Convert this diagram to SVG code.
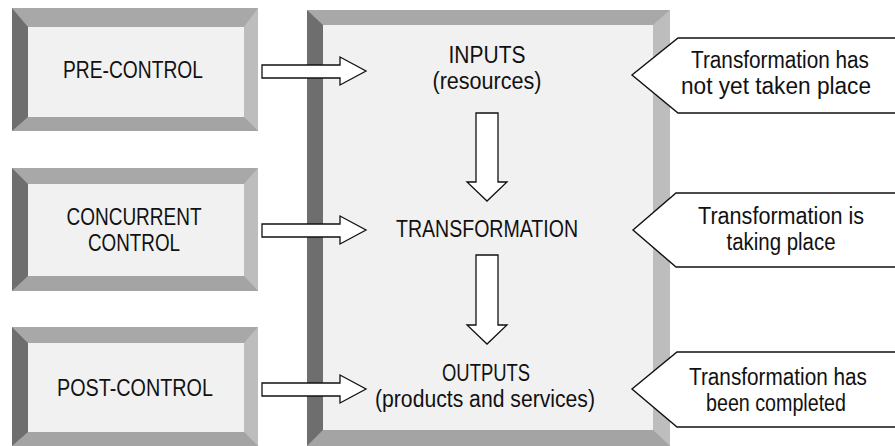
<svg xmlns="http://www.w3.org/2000/svg" width="895" height="446" viewBox="0 0 895 446">
<style>
text{font-family:"Liberation Sans",Arial,sans-serif;font-size:23px;fill:#111;text-anchor:middle}
.outer{fill:#b0b0b0}
.left{fill:#6e6e6e}
.top{fill:#a8a8a8}
.right{fill:#bdbdbd}
.bottom{fill:#a4a4a4}
.inner{fill:#f1f1f1}
.arrow{fill:#fff;stroke:#111;stroke-width:1.3;stroke-linejoin:miter}
.callout{fill:#fff;stroke:#111;stroke-width:1.4}
</style>

<g id="pre-control">
  <rect class="outer" x="12" y="8" width="246" height="123"/>
  <polygon class="top" points="12,8 258,8 244,27 28,27"/>
  <polygon class="right" points="258,8 258,131 244,117 244,27"/>
  <polygon class="bottom" points="12,131 258,131 244,117 28,117"/>
  <polygon class="left" points="12,8 28,27 28,117 12,131"/>
  <rect class="inner" x="28" y="27" width="216" height="90"/>
  <text x="133" y="78" textLength="140" lengthAdjust="spacingAndGlyphs">PRE-CONTROL</text>
</g>

<g id="concurrent-control">
  <rect class="outer" x="12" y="168" width="246" height="123"/>
  <polygon class="top" points="12,168 258,168 244,184 28,184"/>
  <polygon class="right" points="258,168 258,291 244,276 244,184"/>
  <polygon class="bottom" points="12,291 258,291 244,276 28,276"/>
  <polygon class="left" points="12,168 28,184 28,276 12,291"/>
  <rect class="inner" x="28" y="184" width="216" height="92"/>
  <text x="134" y="225" textLength="135" lengthAdjust="spacingAndGlyphs">CONCURRENT</text>
  <text x="134" y="251" textLength="92" lengthAdjust="spacingAndGlyphs">CONTROL</text>
</g>

<g id="post-control">
  <rect class="outer" x="12" y="327" width="246" height="119"/>
  <polygon class="top" points="12,327 258,327 244,343 28,343"/>
  <polygon class="right" points="258,327 258,446 244,432 244,343"/>
  <polygon class="bottom" points="12,446 258,446 244,432 28,432"/>
  <polygon class="left" points="12,327 28,343 28,432 12,446"/>
  <rect class="inner" x="28" y="343" width="216" height="89"/>
  <text x="135" y="396" textLength="156" lengthAdjust="spacingAndGlyphs">POST-CONTROL</text>
</g>

<g id="process">
  <rect class="outer" x="307" y="10" width="363" height="436"/>
  <polygon class="top" points="307,10 670,10 653,25 323,25"/>
  <polygon class="right" points="670,10 670,446 653,430 653,25"/>
  <polygon class="bottom" points="307,446 670,446 653,430 323,430"/>
  <polygon class="left" points="307,10 323,25 323,430 307,446"/>
  <rect class="inner" x="323" y="25" width="330" height="405"/>
</g>

<g id="inputs">
  <text x="487" y="63" textLength="77" lengthAdjust="spacingAndGlyphs">INPUTS</text>
  <text x="487" y="89" textLength="109" lengthAdjust="spacingAndGlyphs">(resources)</text>
</g>

<g id="transformation">
  <text x="487" y="237" textLength="182" lengthAdjust="spacingAndGlyphs">TRANSFORMATION</text>
</g>

<g id="outputs">
  <text x="486" y="381" textLength="88" lengthAdjust="spacingAndGlyphs">OUTPUTS</text>
  <text x="485" y="407" textLength="220" lengthAdjust="spacingAndGlyphs">(products and services)</text>
</g>

<g id="callout-before">
  <polygon class="callout" points="900,38 678,38 632,75 678,113 900,113"/>
  <text x="780" y="68" textLength="178" lengthAdjust="spacingAndGlyphs">Transformation has</text>
  <text x="776" y="94" textLength="190" lengthAdjust="spacingAndGlyphs">not yet taken place</text>
</g>

<g id="callout-during">
  <polygon class="callout" points="900,193 676,193 633,230 676,267 900,267"/>
  <text x="781" y="224" textLength="166" lengthAdjust="spacingAndGlyphs">Transformation is</text>
  <text x="781" y="250" textLength="109" lengthAdjust="spacingAndGlyphs">taking place</text>
</g>

<g id="callout-after">
  <polygon class="callout" points="900,352 677,352 632,389 677,427 900,427"/>
  <text x="778" y="385" textLength="178" lengthAdjust="spacingAndGlyphs">Transformation has</text>
  <text x="776" y="411" textLength="140" lengthAdjust="spacingAndGlyphs">been completed</text>
</g>

<g id="connectors">
  <polygon class="arrow" points="262,65 340,65 340,57 366,71 340,85 340,78 262,78"/>
  <polygon class="arrow" points="262,224 340,224 340,216 366,230 340,244 340,237 262,237"/>
  <polygon class="arrow" points="262,383 340,383 340,375 366,389 340,403 340,396 262,396"/>
  <polygon class="arrow" points="476,113 498,113 498,182 507,182 487,201 467,182 476,182"/>
  <polygon class="arrow" points="476,255 498,255 498,325 507,325 487,344 467,325 476,325"/>
</g>
</svg>
